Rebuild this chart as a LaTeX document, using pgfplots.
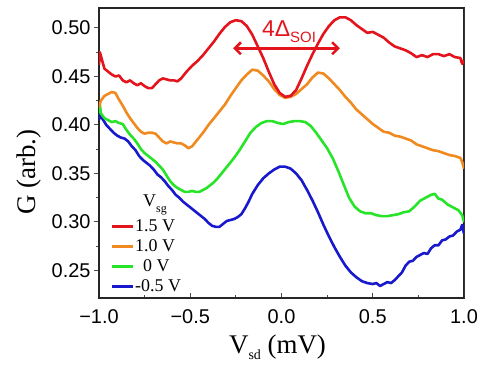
\documentclass[border=0pt]{standalone}
\usepackage{fontspec}
\setmainfont{Liberation Serif}
\newfontfamily\sansf{Liberation Sans}
\usepackage{pgfplots}
\pgfplotsset{compat=1.18}
\usetikzlibrary{arrows.meta}
\definecolor{cred}{RGB}{228,20,28}
\definecolor{corange}{RGB}{240,138,32}
\definecolor{cgreen}{RGB}{40,228,40}
\definecolor{cblue}{RGB}{24,24,204}
\begin{document}
\begin{tikzpicture}
\path[use as bounding box] (-99bp,-67bp) rectangle (390bp,298bp);
\begin{axis}[
 at={(0,0)}, anchor=south west,
 scale only axis, width=365bp, height=290bp,
 xmin=-1, xmax=1, ymin=0.2216, ymax=0.5206,
 xtick={-1,-0.5,0,0.5,1},
 xticklabels={−1.0,−0.5,0.0,0.5,1.0},
 ytick={0.25,0.30,0.35,0.40,0.45,0.50},
 yticklabels={0.25,0.30,0.35,0.40,0.45,0.50},
 minor xtick={-0.75,-0.25,0.25,0.75},
 minor ytick={0.275,0.325,0.375,0.425,0.475},
 tick pos=left,
 xtick align=inside, ytick align=outside,
 major tick length=5bp, minor tick length=3bp,
 tick style={line width=1bp, black!70},
 ticklabel style={font=\sansf\fontsize{20}{24}\selectfont},
 xticklabel style={yshift=-8bp},
 axis line style={line width=1.2bp, black!85},
 xlabel={V\raisebox{-5.5bp}{\fontsize{14}{14}\selectfont sd}\ (mV)},
 ylabel={G (arb.)},
 label style={font=\fontsize{27}{30}\selectfont},
 xlabel style={at={(axis description cs:0.489,-0.193)}, anchor=base},
 ylabel style={at={(axis description cs:-0.1726,0.434)}, anchor=base},
 legend image code/.code={\draw[#1, line width=3bp] (0bp,0bp) -- (21bp,0bp);},
 legend style={draw=none, fill=none, at={(axis cs:-0.94,0.2237)}, anchor=south west,
   inner sep=0pt, font=\fontsize{18}{20}\selectfont, row sep=2bp,
   nodes={inner sep=1bp, text height=13bp, text depth=3bp}},
 legend cell align=left,
 reverse legend,
 every axis plot/.append style={line width=2.6bp, line join=round},
]
\addplot[cblue] coordinates {
(-1.00,0.405) (-0.995,0.411) (-0.98,0.406) (-0.96,0.400) (-0.94,0.396) (-0.92,0.392) (-0.90,0.389) (-0.88,0.387) (-0.86,0.386) (-0.84,0.383) (-0.82,0.378) (-0.80,0.374) (-0.78,0.368) (-0.76,0.364) (-0.74,0.361) (-0.72,0.358) (-0.70,0.354) (-0.68,0.349) (-0.66,0.346) (-0.64,0.342) (-0.62,0.337) (-0.60,0.333) (-0.58,0.328) (-0.56,0.325) (-0.54,0.321) (-0.52,0.318) (-0.50,0.315) (-0.48,0.312) (-0.46,0.309) (-0.44,0.306) (-0.42,0.303) (-0.40,0.299) (-0.38,0.296) (-0.36,0.295) (-0.34,0.295) (-0.32,0.298) (-0.30,0.301) (-0.28,0.302) (-0.26,0.303) (-0.24,0.305) (-0.22,0.308) (-0.20,0.314) (-0.18,0.321) (-0.16,0.329) (-0.13,0.338) (-0.10,0.345) (-0.07,0.350) (-0.04,0.354) (-0.01,0.357) (0.02,0.357) (0.05,0.355) (0.08,0.350) (0.11,0.343) (0.14,0.333) (0.17,0.322) (0.20,0.310) (0.23,0.297) (0.26,0.285) (0.29,0.274) (0.32,0.264) (0.35,0.255) (0.38,0.248) (0.41,0.243) (0.44,0.239) (0.47,0.237) (0.50,0.236) (0.52,0.237) (0.54,0.234) (0.56,0.236) (0.58,0.238) (0.60,0.237) (0.62,0.240) (0.64,0.244) (0.66,0.248) (0.68,0.255) (0.70,0.259) (0.72,0.260) (0.74,0.264) (0.76,0.266) (0.78,0.268) (0.80,0.267) (0.82,0.273) (0.84,0.276) (0.86,0.276) (0.88,0.281) (0.90,0.282) (0.92,0.285) (0.94,0.286) (0.96,0.290) (0.98,0.292) (0.99,0.297) (1.00,0.288)
};
\addlegendentry{-0.5 V}
\addplot[cgreen] coordinates {
(-1.00,0.412) (-0.995,0.421) (-0.99,0.412) (-0.97,0.407) (-0.95,0.405) (-0.93,0.403) (-0.91,0.404) (-0.89,0.402) (-0.87,0.401) (-0.85,0.395) (-0.83,0.390) (-0.81,0.386) (-0.79,0.381) (-0.77,0.375) (-0.75,0.371) (-0.73,0.368) (-0.71,0.365) (-0.69,0.362) (-0.67,0.358) (-0.65,0.354) (-0.63,0.348) (-0.61,0.342) (-0.59,0.338) (-0.57,0.335) (-0.55,0.333) (-0.53,0.331) (-0.51,0.331) (-0.49,0.332) (-0.47,0.331) (-0.45,0.331) (-0.43,0.333) (-0.41,0.335) (-0.39,0.338) (-0.37,0.341) (-0.35,0.345) (-0.32,0.352) (-0.29,0.359) (-0.26,0.366) (-0.23,0.374) (-0.20,0.383) (-0.17,0.392) (-0.14,0.398) (-0.11,0.402) (-0.08,0.404) (-0.05,0.404) (-0.02,0.402) (0.01,0.401) (0.04,0.403) (0.07,0.404) (0.10,0.404) (0.13,0.403) (0.16,0.399) (0.19,0.392) (0.22,0.384) (0.25,0.376) (0.28,0.366) (0.31,0.353) (0.34,0.339) (0.37,0.325) (0.40,0.316) (0.43,0.311) (0.46,0.309) (0.49,0.309) (0.52,0.307) (0.55,0.306) (0.58,0.306) (0.61,0.307) (0.64,0.308) (0.67,0.310) (0.70,0.311) (0.73,0.316) (0.76,0.322) (0.79,0.325) (0.82,0.328) (0.84,0.329) (0.86,0.324) (0.88,0.323) (0.91,0.318) (0.94,0.315) (0.97,0.312) (0.99,0.307) (1.00,0.300)
};
\addlegendentry{\hspace{8bp}0 V}
\addplot[corange] coordinates {
(-1.00,0.418) (-0.99,0.425) (-0.97,0.430) (-0.95,0.432) (-0.93,0.434) (-0.91,0.433) (-0.89,0.426) (-0.87,0.420) (-0.85,0.413) (-0.83,0.407) (-0.81,0.402) (-0.79,0.397) (-0.77,0.393) (-0.75,0.391) (-0.73,0.392) (-0.71,0.392) (-0.69,0.391) (-0.67,0.387) (-0.65,0.383) (-0.63,0.381) (-0.61,0.383) (-0.59,0.382) (-0.57,0.381) (-0.55,0.381) (-0.53,0.379) (-0.51,0.376) (-0.49,0.378) (-0.46,0.385) (-0.43,0.392) (-0.40,0.400) (-0.37,0.407) (-0.34,0.414) (-0.31,0.421) (-0.28,0.430) (-0.25,0.438) (-0.22,0.446) (-0.19,0.452) (-0.16,0.457) (-0.13,0.456) (-0.10,0.451) (-0.07,0.445) (-0.04,0.437) (-0.01,0.431) (0.02,0.428) (0.05,0.429) (0.08,0.432) (0.11,0.437) (0.14,0.442) (0.17,0.449) (0.20,0.454) (0.23,0.453) (0.26,0.448) (0.29,0.442) (0.32,0.436) (0.35,0.429) (0.38,0.423) (0.41,0.416) (0.44,0.411) (0.47,0.406) (0.50,0.401) (0.53,0.397) (0.56,0.393) (0.59,0.392) (0.62,0.389) (0.65,0.388) (0.68,0.386) (0.71,0.384) (0.74,0.380) (0.77,0.378) (0.80,0.376) (0.83,0.374) (0.86,0.373) (0.89,0.371) (0.92,0.369) (0.95,0.368) (0.98,0.366) (0.99,0.362) (1.00,0.355)
};
\addlegendentry{1.0 V}
\addplot[cred] coordinates {
(-1.00,0.462) (-0.995,0.475) (-0.985,0.468) (-0.97,0.458) (-0.95,0.455) (-0.93,0.452) (-0.91,0.450) (-0.89,0.451) (-0.87,0.446) (-0.85,0.444) (-0.83,0.446) (-0.81,0.443) (-0.79,0.441) (-0.77,0.443) (-0.75,0.440) (-0.73,0.438) (-0.71,0.438) (-0.69,0.442) (-0.67,0.446) (-0.65,0.448) (-0.63,0.447) (-0.61,0.446) (-0.59,0.446) (-0.57,0.445) (-0.55,0.448) (-0.52,0.455) (-0.49,0.461) (-0.46,0.466) (-0.43,0.472) (-0.40,0.479) (-0.37,0.486) (-0.34,0.494) (-0.31,0.501) (-0.28,0.506) (-0.25,0.508) (-0.22,0.507) (-0.19,0.502) (-0.16,0.493) (-0.13,0.481) (-0.10,0.469) (-0.07,0.455) (-0.04,0.442) (-0.01,0.433) (0.02,0.429) (0.05,0.430) (0.08,0.436) (0.11,0.448) (0.14,0.461) (0.17,0.473) (0.20,0.484) (0.23,0.494) (0.26,0.502) (0.29,0.508) (0.32,0.511) (0.35,0.511) (0.38,0.508) (0.41,0.503) (0.44,0.499) (0.47,0.495) (0.50,0.496) (0.53,0.493) (0.56,0.490) (0.59,0.485) (0.62,0.481) (0.65,0.479) (0.68,0.477) (0.71,0.474) (0.74,0.470) (0.77,0.472) (0.80,0.470) (0.83,0.473) (0.86,0.473) (0.89,0.471) (0.92,0.473) (0.95,0.470) (0.98,0.469) (0.99,0.463) (1.00,0.467)
};
\addlegendentry{1.5 V}
\draw[cred, line width=2.5bp, {Straight Barb[length=6bp,width=12bp]}-{Straight Barb[length=6bp,width=12bp]}] (axis cs:-0.265,0.479) -- (axis cs:0.32,0.479);
\node[cred, anchor=base west, inner sep=0pt] at (axis cs:-0.107,0.4907) {\sansf\fontsize{23}{23}\selectfont 4Δ\raisebox{-6bp}{\fontsize{15}{15}\selectfont SOI}};
\node[anchor=base west, inner sep=0pt] at (axis cs:-0.759,0.3155) {\fontsize{18}{20}\selectfont V\raisebox{-6bp}{\fontsize{12}{12}\selectfont sg}};
\draw[gray!80, line width=1bp] (rel axis cs:1,0) -- (rel axis cs:1,1);
\end{axis}
\end{tikzpicture}
\end{document}
